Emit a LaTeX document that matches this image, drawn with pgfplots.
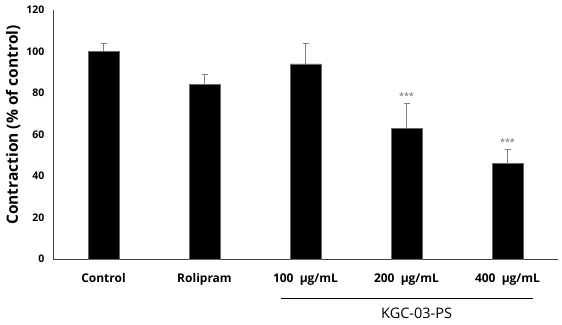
\documentclass[border=0pt]{standalone}
\usepackage{pgfplots}
\pgfplotsset{compat=1.18}
\usepackage{fontspec}
\setmainfont{Open Sans}
\begin{document}
\begin{tikzpicture}[x=1pt,y=1pt]
\useasboundingbox (0,0) rectangle (562,324);
\begin{axis}[
  at={(53pt,65pt)}, anchor=south west,
  scale only axis, width=505pt, height=249pt,
  xmin=-0.5, xmax=4.5, ymin=0, ymax=120,
  axis x line=bottom, axis y line=left,
  axis line style={-, draw=black!75, line width=0.9pt},
  major tick length=0pt,
  ytick={0,20,...,120},
  xtick={0,1,2,3,4},
  xticklabels={Control,Rolipram,100\ \ μg/mL,200\ \ μg/mL,400\ \ μg/mL},
  /pgf/number format/assume math mode=true,
  yticklabel style={font=\bfseries\fontsize{10.5}{12}\selectfont, xshift=-5pt},
  xticklabel style={font=\bfseries\fontsize{12}{14}\selectfont, yshift=-11pt},
  ylabel={\bfseries Contraction (\% of control)},
  ylabel style={font=\fontsize{15.5}{18}\selectfont, at={(axis description cs:-0.079,0.538)}, anchor=center, rotate=0},
  clip=false,
]
\addplot[ybar, bar width=31pt, fill=black, draw=black!60,
  error bars/.cd, y dir=plus, y explicit,
  error bar style={black!50, line width=0.7pt},
  error mark options={rotate=90, black!50, mark size=3pt, line width=0.7pt}]
  coordinates {
  (0,100) +- (0,4)
  (1,84) +- (0,5)
  (2,94) +- (0,10)
  (3,63) +- (0,12)
  (4,46) +- (0,7)
  };
\node[anchor=south, font=\fontsize{9}{10}\selectfont, text=black!60, inner sep=1pt] at (axis cs:3,76.3) {***};
\node[anchor=south, font=\fontsize{9}{10}\selectfont, text=black!60, inner sep=1pt] at (axis cs:4,54.3) {***};
\draw[black, line width=0.6pt] (axis cs:1.757,-18.8) -- (axis cs:4.25,-18.8);
\node[font=\fontsize{14.5}{17}\selectfont] at (axis cs:3.1,-26.3) {KGC-03-PS};
\end{axis}
\end{tikzpicture}
\end{document}
